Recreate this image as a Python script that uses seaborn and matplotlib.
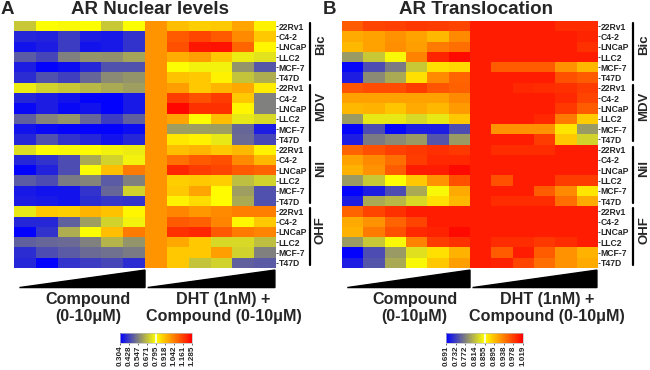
import matplotlib
matplotlib.use("Agg")
import matplotlib.pyplot as plt
import matplotlib.transforms as mtransforms
from matplotlib.colors import LinearSegmentedColormap
from matplotlib.patches import Polygon
import pandas as pd
import seaborn as sns


CELL_LINES = ["22Rv1", "C4-2", "LNCaP", "LLC2", "MCF-7", "T47D"]
TREATMENTS = ["Bic", "MDV", "Nil", "OHF"]
DOSE_COLS = [f"cpd_{i}" for i in range(6)] + [f"dht_cpd_{i}" for i in range(6)]

# AR nuclear levels (panel A); first 6 columns compound alone, last 6 DHT + compound
nuclear_bic = [
    [0.69, 0.79, 0.78, 0.79, 0.69, 0.79, 1.00, 0.92, 0.89, 0.90, 0.97, 0.82],
    [0.38, 0.37, 0.42, 0.36, 0.35, 0.40, 1.00, 1.11, 1.15, 1.11, 1.02, 0.90],
    [0.34, 0.36, 0.42, 0.34, 0.35, 0.40, 1.00, 1.13, 1.24, 1.25, 1.09, 0.81],
    [0.48, 0.44, 0.55, 0.59, 0.58, 0.62, 1.00, 0.95, 0.98, 0.90, 0.76, 0.74],
    [0.36, 0.31, 0.33, 0.38, 0.46, 0.46, 1.00, 0.79, 0.77, 0.77, 0.59, 0.47],
    [0.39, 0.46, 0.43, 0.50, 0.57, 0.59, 1.00, 0.91, 0.90, 0.82, 0.68, 0.64],
]
nuclear_mdv = [
    [0.76, 0.71, 0.69, 0.66, 0.63, 0.61, 1.00, 0.98, 0.90, 0.94, 0.96, 0.83],
    [0.38, 0.36, 0.34, 0.31, 0.31, 0.35, 1.00, 1.17, 1.13, 1.17, 0.90, 0.55],
    [0.32, 0.36, 0.32, 0.34, 0.31, 0.35, 1.00, 1.27, 1.19, 1.19, 0.81, 0.55],
    [0.49, 0.56, 0.59, 0.50, 0.42, 0.49, 1.00, 0.97, 0.80, 0.92, 0.75, 0.72],
    [0.34, 0.32, 0.31, 0.31, 0.31, 0.33, 1.00, 0.61, 0.61, 0.61, 0.50, 0.36],
    [0.38, 0.46, 0.40, 0.38, 0.34, 0.38, 1.00, 0.84, 0.82, 0.75, 0.51, 0.44],
]
nuclear_nil = [
    [0.73, 0.80, 0.78, 0.80, 0.77, 0.76, 1.00, 0.92, 0.94, 0.90, 0.93, 0.82],
    [0.38, 0.40, 0.45, 0.63, 0.71, 0.77, 1.00, 1.07, 1.11, 1.13, 1.02, 0.93],
    [0.31, 0.37, 0.45, 0.79, 0.92, 1.05, 1.00, 1.21, 1.17, 1.15, 1.11, 1.09],
    [0.48, 0.45, 0.54, 0.56, 0.48, 0.55, 1.00, 0.89, 0.90, 0.89, 0.67, 0.71],
    [0.35, 0.34, 0.34, 0.40, 0.50, 0.71, 1.00, 0.90, 0.97, 0.80, 0.61, 0.46],
    [0.36, 0.35, 0.34, 0.39, 0.41, 0.40, 1.00, 0.82, 0.86, 0.80, 0.63, 0.46],
]
nuclear_ohf = [
    [0.75, 0.90, 0.89, 0.94, 0.91, 0.81, 1.00, 1.03, 0.99, 1.02, 1.04, 1.04],
    [0.38, 0.38, 0.49, 0.61, 0.71, 0.77, 1.00, 1.11, 1.10, 1.03, 0.81, 0.90],
    [0.31, 0.40, 0.64, 0.79, 0.92, 1.05, 1.00, 1.19, 1.21, 1.11, 1.05, 1.03],
    [0.49, 0.50, 0.51, 0.55, 0.65, 0.59, 1.00, 0.96, 0.90, 0.72, 0.72, 0.67],
    [0.39, 0.45, 0.48, 0.51, 0.52, 0.54, 1.00, 0.90, 0.90, 0.98, 0.71, 0.55],
    [0.38, 0.31, 0.40, 0.42, 0.44, 0.39, 1.00, 0.90, 0.68, 0.71, 0.49, 0.48],
]

# AR translocation (panel B)
transloc_bic = [
    [0.960, 0.975, 0.977, 0.983, 0.980, 0.975, 1.000, 1.000, 1.000, 1.000, 0.990, 0.990],
    [0.910, 0.915, 0.925, 0.915, 0.900, 0.930, 1.000, 1.000, 1.000, 1.000, 1.000, 0.995],
    [0.900, 0.915, 0.927, 0.917, 0.940, 0.948, 1.000, 1.000, 1.000, 1.000, 1.000, 0.987],
    [0.790, 0.820, 0.850, 0.935, 0.995, 1.012, 1.000, 1.000, 1.000, 1.000, 1.000, 1.000],
    [0.695, 0.740, 0.770, 0.820, 0.875, 0.880, 1.000, 0.960, 0.960, 0.960, 0.925, 0.900],
    [0.710, 0.780, 0.800, 0.875, 0.930, 0.954, 1.000, 1.000, 1.000, 1.000, 0.967, 0.960],
]
transloc_mdv = [
    [0.964, 0.970, 0.970, 0.980, 0.964, 0.957, 1.000, 1.000, 0.993, 0.990, 0.987, 0.980],
    [0.915, 0.915, 0.915, 0.915, 0.915, 0.930, 1.000, 1.000, 1.000, 1.000, 0.993, 0.975],
    [0.900, 0.904, 0.891, 0.910, 0.900, 0.920, 1.000, 1.000, 1.000, 1.000, 0.983, 0.960],
    [0.790, 0.840, 0.840, 0.830, 0.840, 0.890, 1.000, 1.000, 1.000, 0.993, 0.940, 0.888],
    [0.693, 0.740, 0.695, 0.710, 0.710, 0.740, 1.000, 0.925, 0.925, 0.925, 0.871, 0.790],
    [0.710, 0.770, 0.780, 0.790, 0.745, 0.790, 1.000, 1.000, 1.000, 0.980, 0.890, 0.826],
]
transloc_nil = [
    [0.954, 0.967, 0.977, 0.983, 0.987, 0.983, 1.000, 0.990, 0.990, 0.990, 1.000, 1.000],
    [0.915, 0.930, 0.948, 0.980, 0.993, 0.993, 1.000, 1.000, 1.000, 1.000, 1.000, 1.000],
    [0.904, 0.925, 0.960, 1.000, 1.000, 1.012, 1.000, 1.000, 1.000, 1.000, 1.000, 1.000],
    [0.790, 0.820, 0.855, 0.890, 0.925, 0.967, 1.000, 0.967, 1.000, 1.000, 0.980, 0.980],
    [0.693, 0.710, 0.740, 0.800, 0.850, 0.910, 1.000, 1.000, 1.000, 0.960, 0.930, 0.871],
    [0.710, 0.800, 0.810, 0.830, 0.875, 0.900, 1.000, 0.990, 0.990, 0.990, 0.948, 0.910],
]
transloc_ohf = [
    [0.954, 0.975, 0.987, 1.000, 1.000, 1.000, 1.000, 1.000, 1.000, 1.000, 1.000, 1.000],
    [0.910, 0.925, 0.954, 0.975, 1.000, 1.000, 1.000, 1.000, 1.000, 1.000, 1.000, 1.000],
    [0.904, 0.940, 0.967, 0.993, 0.997, 1.012, 1.000, 1.000, 1.000, 1.000, 1.000, 1.000],
    [0.790, 0.820, 0.850, 0.935, 0.980, 0.987, 1.000, 0.990, 0.990, 0.983, 0.990, 1.000],
    [0.693, 0.740, 0.790, 0.835, 0.875, 0.904, 1.000, 0.960, 1.000, 0.960, 0.925, 0.904],
    [0.710, 0.745, 0.800, 0.850, 0.890, 0.917, 1.000, 0.997, 0.975, 0.948, 0.925, 0.910],
]

NUCLEAR_TICKS = [0.304, 0.428, 0.547, 0.671, 0.795, 0.918, 1.042, 1.161, 1.285]
TRANSLOC_TICKS = [0.691, 0.732, 0.772, 0.814, 0.855, 0.895, 0.938, 0.978, 1.019]

HEAT_CMAP = LinearSegmentedColormap.from_list("by_r", ["#0000ff", "#ffff00", "#ff0000"])

W, H = 650, 370


def fig_box(x0, y0, x1, y1):
    # pixel box (top-left origin) -> figure fraction rect
    return [x0 / W, 1 - y1 / H, (x1 - x0) / W, (y1 - y0) / H]


def build_frame(groups):
    rows = [r for g in groups for r in g]
    return pd.DataFrame(rows, columns=DOSE_COLS)


def draw_panel(fig, groups, ticks, heat_box, cbar_box, bracket_x, label_x, title, title_x, letter_x, letter):
    df = build_frame(groups)
    ax = fig.add_axes(fig_box(*heat_box))
    cax = fig.add_axes(fig_box(*cbar_box))
    sns.heatmap(
        df,
        ax=ax,
        cmap=HEAT_CMAP,
        vmin=ticks[0],
        vmax=ticks[-1],
        cbar_ax=cax,
        cbar_kws={"orientation": "horizontal", "ticks": ticks},
        xticklabels=True,
        yticklabels=CELL_LINES * len(TREATMENTS),
    )
    ax.set_xticklabels([""] * len(DOSE_COLS))
    ax.set_xlabel("")
    ax.set_ylabel("")
    ax.tick_params(axis="x", length=2.5, color="#999999", width=0.6)
    ax.yaxis.tick_right()
    ax.tick_params(axis="y", left=False, right=True, labelleft=False, labelright=True,
                   length=1.5, width=0.6, pad=0.5, rotation=0)
    for lab in ax.get_yticklabels():
        lab.set_fontfamily(["Liberation Sans Narrow", "Liberation Sans"])
        lab.set_fontsize(6.2)
        lab.set_fontweight("bold")

    cbar = ax.collections[0].colorbar
    cbar.set_ticks(ticks)
    cax.set_xticklabels([f"{t:.3f}" for t in ticks], rotation=90, fontsize=5.9, fontweight="bold")
    cax.tick_params(axis="x", length=1.5, width=0.5, pad=0.5)
    cbar.outline.set_edgecolor("#bbbbbb")
    cbar.outline.set_linewidth(0.5)
    cax.axvline((ticks[0] + ticks[-1]) / 2, color="white", lw=1.2)

    # dose wedges under each half
    for x0, x1 in [(0.25, 6.0), (6.12, 11.95)]:
        ax.add_patch(Polygon([(x0, 25.9), (x1, 24.2), (x1, 25.9)], closed=True,
                             color="black", clip_on=False))
    ax.text(3.4, 27.9, "Compound\n(0-10\u03bcM)", ha="center", va="center",
            fontsize=11.6, fontweight="bold", linespacing=1.15, clip_on=False)
    ax.text(9.6, 27.9, "DHT (1nM) +\nCompound (0-10\u03bcM)", ha="center", va="center",
            fontsize=11.6, fontweight="bold", linespacing=1.15, clip_on=False)

    # treatment brackets on the right
    trans = mtransforms.blended_transform_factory(fig.transFigure, ax.transData)
    for i, name in enumerate(TREATMENTS):
        top = i * 6
        ax.plot([bracket_x / W, bracket_x / W], [top + 0.2, top + 5.7], color="black",
                lw=1.6, transform=trans, clip_on=False)
        ax.text(label_x / W, top + 2.3, name, rotation=90, ha="center", va="center",
                fontsize=9.5, fontweight="bold", transform=trans, clip_on=False)

    fig.text(title_x / W, 1 - 9 / H, title, ha="center", va="center", fontsize=13.5, fontweight="bold")
    fig.text(letter_x / W, 1 - 9 / H, letter, ha="center", va="center", fontsize=13.5, fontweight="bold")


sns.set_theme(style="white")
plt.rcParams["font.family"] = ["Liberation Sans", "DejaVu Sans"]

fig = plt.figure(figsize=(W / 100, H / 100), dpi=100)

draw_panel(fig, [nuclear_bic, nuclear_mdv, nuclear_nil, nuclear_ohf], NUCLEAR_TICKS,
           (14, 21, 276, 268), (120, 333, 192, 343), 310, 321,
           "AR Nuclear levels", 150, 7, "A")
draw_panel(fig, [transloc_bic, transloc_mdv, transloc_nil, transloc_ohf], TRANSLOC_TICKS,
           (342, 21, 598, 268), (446, 333, 523, 343), 633, 644,
           "AR Translocation", 476, 329, "B")

fig.savefig("out.png", dpi=100)
